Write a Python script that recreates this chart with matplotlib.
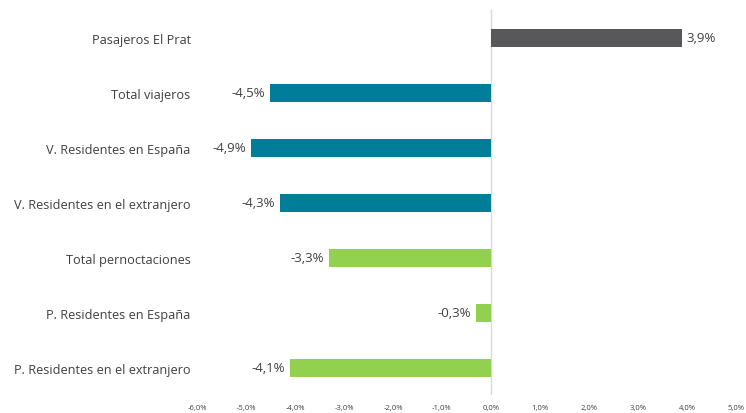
import matplotlib
matplotlib.use("Agg")
import matplotlib.pyplot as plt
from matplotlib.ticker import FuncFormatter

categories = [
    "Pasajeros El Prat",
    "Total viajeros",
    "V. Residentes en España",
    "V. Residentes en el extranjero",
    "Total pernoctaciones",
    "P. Residentes en España",
    "P. Residentes en el extranjero",
]
values = [3.9, -4.5, -4.9, -4.3, -3.3, -0.3, -4.1]
colors = ["#58585a", "#007e99", "#007e99", "#007e99", "#92d050", "#92d050", "#92d050"]

plt.rcParams["font.family"] = ["Open Sans", "DejaVu Sans"]
text_color = "#404040"

fig = plt.figure(figsize=(7.46, 4.14), dpi=100)
ax = fig.add_axes([0.2640, 0.0423, 0.7225, 0.93])

y = list(range(len(categories)))
ax.barh(y, values, height=0.33, color=colors, zorder=2)
ax.set_ylim(len(categories) - 0.5, -0.5)
ax.set_xlim(-6, 5)
ax.set_xticks(range(-6, 6))
ax.xaxis.set_major_formatter(FuncFormatter(lambda v, p: f"{v:.1f}%".replace(".", ",")))
ax.tick_params(axis="x", length=0, labelsize=5.5, labelcolor=text_color, pad=6)
ax.set_yticks(y)
ax.set_yticklabels(categories)
ax.tick_params(axis="y", length=0, labelsize=9.2, labelcolor=text_color, pad=4.5)
for s in ax.spines.values():
    s.set_visible(False)
ax.axvline(0, color="#d9d9d9", lw=1, zorder=1)

for yi, v in zip(y, values):
    label = f"{v:.1f}%".replace(".", ",")
    if v >= 0:
        ax.text(v + 0.1, yi, label, va="center", ha="left", fontsize=9.5, color=text_color)
    else:
        ax.text(v - 0.1, yi, label, va="center", ha="right", fontsize=9.5, color=text_color)

fig.savefig("out.png", dpi=100)
